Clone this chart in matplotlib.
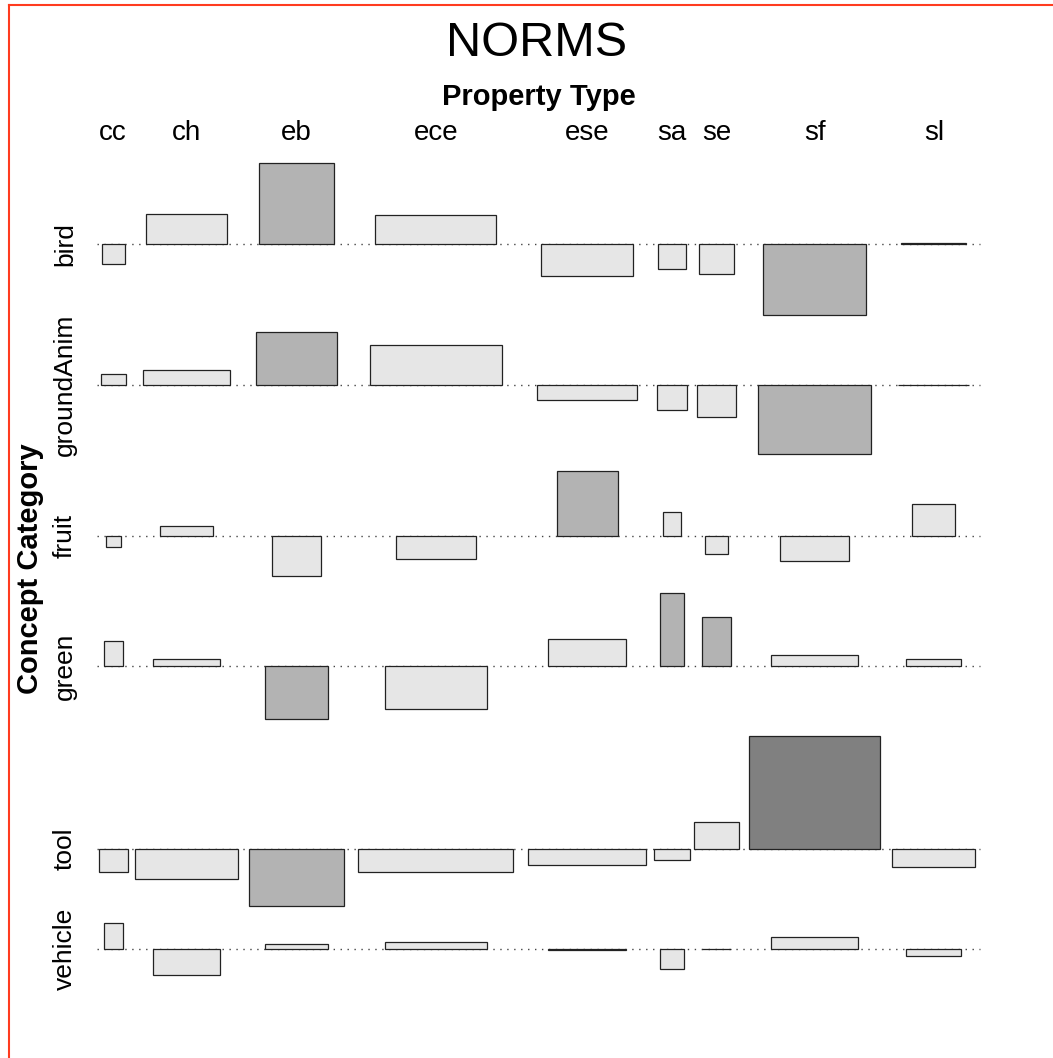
import matplotlib
matplotlib.use("Agg")
import matplotlib.pyplot as plt
from matplotlib.patches import Rectangle
import matplotlib.transforms as mtransforms
import numpy as np

plt.rcParams['font.family'] = ['Liberation Sans', 'DejaVu Sans']

# ---- data ----
property_types = ["cc", "ch", "eb", "ece", "ese", "sa", "se", "sf", "sl"]
concept_categories = ["bird", "groundAnim", "fruit", "green", "tool", "vehicle"]

# relative sqrt(expected) : column factor (largest row) and row factor
col_sqrt_expected = [29.3, 103.3, 96.0, 155.8, 118.0, 35.6, 45.0, 132.2, 83.6]
row_sqrt_factor = [0.78, 0.855, 0.52, 0.66, 1.0, 0.66]

# Pearson residuals (rows = concept category, cols = property type)
res_bird       = [-0.87, 1.30, 3.52, 1.26, -1.39, -1.09, -1.30, -3.10, 0.02]
res_groundAnim = [0.47, 0.67, 2.30, 1.73, -0.64, -1.10, -1.39, -3.00, 0.02]
res_fruit      = [-0.51, 0.40, -1.75, -1.00, 2.80, 1.03, -0.81, -1.12, 1.35]
res_green      = [1.10, 0.32, -2.30, -1.87, 1.17, 3.20, 2.14, 0.51, 0.33]
res_tool       = [-1.00, -1.30, -2.48, -1.00, -0.68, -0.47, 1.19, 4.91, -0.77]
res_vehicle    = [1.12, -1.13, 0.22, 0.32, -0.04, -0.87, -0.02, 0.51, -0.29]

residuals = np.array([res_bird, res_groundAnim, res_fruit, res_green, res_tool, res_vehicle])
widths = np.outer(row_sqrt_factor, col_sqrt_expected)

W, H = 1053, 1058
fig = plt.figure(figsize=(W / 100, H / 100), dpi=100)

# panel placement in pixels
px_left, px_right, px_top, px_bottom = 97, 980, 163, 975
ax = fig.add_axes([px_left / W, 1 - px_bottom / H, (px_right - px_left) / W, (px_bottom - px_top) / H])
ax.axis('off')

# horizontal layout
xscale = 0.9
cell_w = np.array(col_sqrt_expected) / xscale
col_left = np.concatenate([[0], np.cumsum(cell_w)[:-1]])
col_center = col_left + cell_w / 2
total_w = cell_w.sum()

# vertical layout (residual units)
row_max = np.maximum(residuals.max(axis=1), 0)
row_min = np.minimum(residuals.min(axis=1), 0)
row_range = row_max - row_min
gap = 0.74
total_h = row_range.sum() + gap * (len(concept_categories) - 1)
baselines = []
cur_top = total_h
for i in range(len(concept_categories)):
    baselines.append(cur_top - row_max[i])
    cur_top -= row_range[i] + gap
baselines = np.array(baselines)

ax.set_xlim(0, total_w)
ax.set_ylim(0, total_h)

def shade(r):
    a = abs(r)
    if a > 4:
        return "#808080"
    if a > 2:
        return "#B3B3B3"
    return "#E6E6E6"

for i in range(len(concept_categories)):
    ax.plot([0, total_w], [baselines[i]] * 2, linestyle=(0, (1, 4)), color="#444444", lw=1.0,
            zorder=1, clip_on=False)
    for j in range(len(property_types)):
        r = residuals[i, j]
        w = widths[i, j]
        ax.add_patch(Rectangle((col_center[j] - w / 2, baselines[i]), w, r,
                               facecolor=shade(r), edgecolor="#222222", lw=0.9, zorder=2,
                               clip_on=False))

# labels
tr_col = mtransforms.blended_transform_factory(ax.transData, fig.transFigure)
for j, lab in enumerate(property_types):
    fig.text(col_center[j], 1 - 133 / H, lab, transform=tr_col, ha='center', va='center', fontsize=20)
tr_row = mtransforms.blended_transform_factory(fig.transFigure, ax.transData)
for i, lab in enumerate(concept_categories):
    fig.text(65 / W, baselines[i], lab, transform=tr_row, rotation=90, ha='center', va='center', fontsize=19)

fig.text(0.5 * (px_left + px_right) / W, 1 - 97 / H, "Property Type", ha='center', va='center',
         fontsize=21, fontweight='bold')
fig.text(30 / W, 1 - 0.5 * (px_top + px_bottom) / H, "Concept Category", ha='center', va='center',
         rotation=90, fontsize=21, fontweight='bold')
fig.text(537 / W, 1 - 43 / H, "NORMS", ha='center', va='center', fontsize=35)

# screenshot frame (top and left edges)
fig.add_artist(plt.Line2D([9 / W, 1], [1 - 5 / H, 1 - 5 / H], color="#FF3B1F", lw=1.5, transform=fig.transFigure))
fig.add_artist(plt.Line2D([9 / W, 9 / W], [0, 1 - 5 / H], color="#FF3B1F", lw=1.5, transform=fig.transFigure))

fig.savefig("out.png", dpi=100)
